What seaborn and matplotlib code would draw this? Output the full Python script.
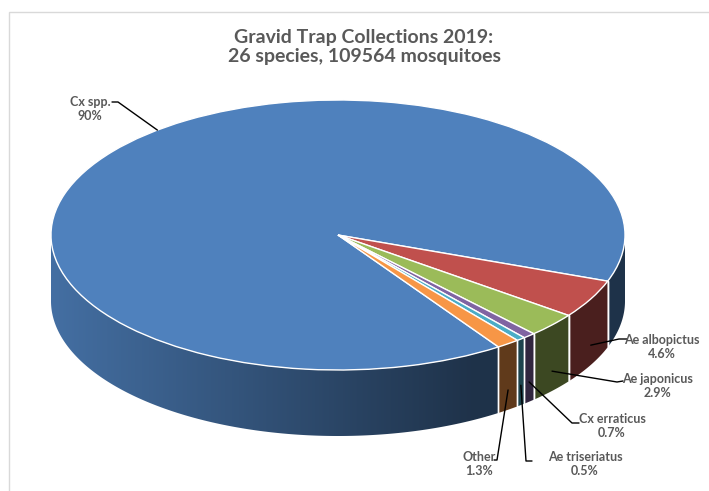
import numpy as np
import matplotlib
matplotlib.use('Agg')
import matplotlib.pyplot as plt
import seaborn as sns
from matplotlib.patches import Rectangle, Polygon

# data
species = ['Cx spp.', 'Ae albopictus', 'Ae japonicus', 'Cx erraticus', 'Ae triseriatus', 'Other']
percent = [90.0, 4.6, 2.9, 0.7, 0.5, 1.3]
pct_labels = ['90%', '4.6%', '2.9%', '0.7%', '0.5%', '1.3%']
colors = ['#4f81bd', '#c0504d', '#9bbb59', '#8064a2', '#4bacc6', '#f79646']

title = 'Gravid Trap Collections 2019:\n26 species, 109564 mosquitoes'

# layout, in pixels of the 709x491 picture
CX, CY = 338, 235      # centre of the top face
RX, RY = 287, 135      # semi axes of the top face
DEPTH = 66             # height of the side wall
label_pos = [(90, 109), (662, 347), (657, 386), (612, 426), (585, 464), (479, 464)]
leader_end = [(112, 102), (627, 339), (623, 381), (579, 423), (532, 461), (494, 460)]
leader_elbow = [(118, 102), (619, 339), (617, 382), (572, 423), (526, 461), (497, 460)]
anchor_nudge = [-13, 0, 0, 0, 0, 0]   # degrees, to follow the perspective of the original

sns.set_theme(style='white')
plt.rcParams['font.family'] = ['Lato', 'DejaVu Sans']

TXT = '#595959'


def px(x, y):
    # pixel position -> data coordinates
    return (x - CX) / RX, (CY - y) / RY


def shade_row(col, xs):
    f = np.maximum(0.39, 0.54 - 0.32 * xs)
    rgb = np.array(matplotlib.colors.to_rgb(col))
    return np.clip(f[:, None] * rgb[None, :], 0, 1)


fig = plt.figure(figsize=(7.09, 4.91), dpi=100)
ax = fig.add_axes([0, 0, 1, 1])

wedges, _ = ax.pie(percent, colors=colors, startangle=-56, counterclock=False,
                   radius=1, center=(0, 0), frame=False,
                   wedgeprops=dict(edgecolor='white', linewidth=1.0))
ax.set_aspect('auto')
ax.set_xlim((0 - CX) / RX, (709 - CX) / RX)
ax.set_ylim((CY - 491) / RY, CY / RY)
ax.axis('off')

d = DEPTH / RY

# side walls (front half only), shaded left to right
seams = []
for w, col in zip(wedges, colors):
    for k in range(-3, 3):
        lo = max(w.theta1, 180 + 360 * k)
        hi = min(w.theta2, 360 + 360 * k)
        if hi <= lo:
            continue
        ts = np.radians(np.linspace(lo, hi, max(3, int(4 * (hi - lo)))))
        top = np.column_stack([np.cos(ts), np.sin(ts)])
        bot = np.column_stack([np.cos(ts[::-1]), np.sin(ts[::-1]) - d])
        poly = Polygon(np.vstack([top, bot]), closed=True, facecolor='none',
                       edgecolor='none', zorder=0.5)
        ax.add_patch(poly)
        x0, x1 = np.cos(ts).min(), np.cos(ts).max()
        y0, y1 = np.sin(ts).min() - d, np.sin(ts).max()
        xs = np.linspace(x0, x1, 200)
        img = shade_row(col, xs)[None, :, :]
        im = ax.imshow(img, extent=(x0, x1, y0, y1), aspect='auto', origin='lower',
                       interpolation='bilinear', zorder=0.5)
        im.set_clip_path(poly)
    for t in (w.theta1, w.theta2):
        if np.sin(np.radians(t)) < -0.02:
            seams.append(t)

for t in seams:
    r = np.radians(t)
    ax.plot([np.cos(r), np.cos(r)], [np.sin(r), np.sin(r) - d], color='white', lw=1.0, zorder=0.6)

ax.set_xlim((0 - CX) / RX, (709 - CX) / RX)
ax.set_ylim((CY - 491) / RY, CY / RY)

# labels with leader lines
for i, w in enumerate(wedges):
    mid = np.radians((w.theta1 + w.theta2) / 2 + anchor_nudge[i])
    ax_, ay_ = np.cos(mid), np.sin(mid)
    if ay_ < 0:
        ay_ -= 0.7 * d
    ex, ey = px(*leader_end[i])
    bx, by = px(*leader_elbow[i])
    ax.plot([ex, bx, ax_], [ey, by, ay_], color='black', lw=1.0, zorder=3)
    tx, ty = px(*label_pos[i])
    ax.text(tx, ty, f'{species[i]}\n{pct_labels[i]}', ha='center', va='center',
            fontsize=9, fontweight='bold', color=TXT, linespacing=1.25, zorder=4)

tx, ty = px(364, 47)
ax.text(tx, ty, title, ha='center', va='center', fontsize=14, fontweight='bold',
        color=TXT, linespacing=1.2)

# chart area border
fig.patches.append(Rectangle((9 / 709, -0.1), 1.0, 1.1 - 12 / 491, transform=fig.transFigure,
                             fill=False, edgecolor='#d9d9d9', lw=1.0))

fig.savefig('out.png', dpi=100)
